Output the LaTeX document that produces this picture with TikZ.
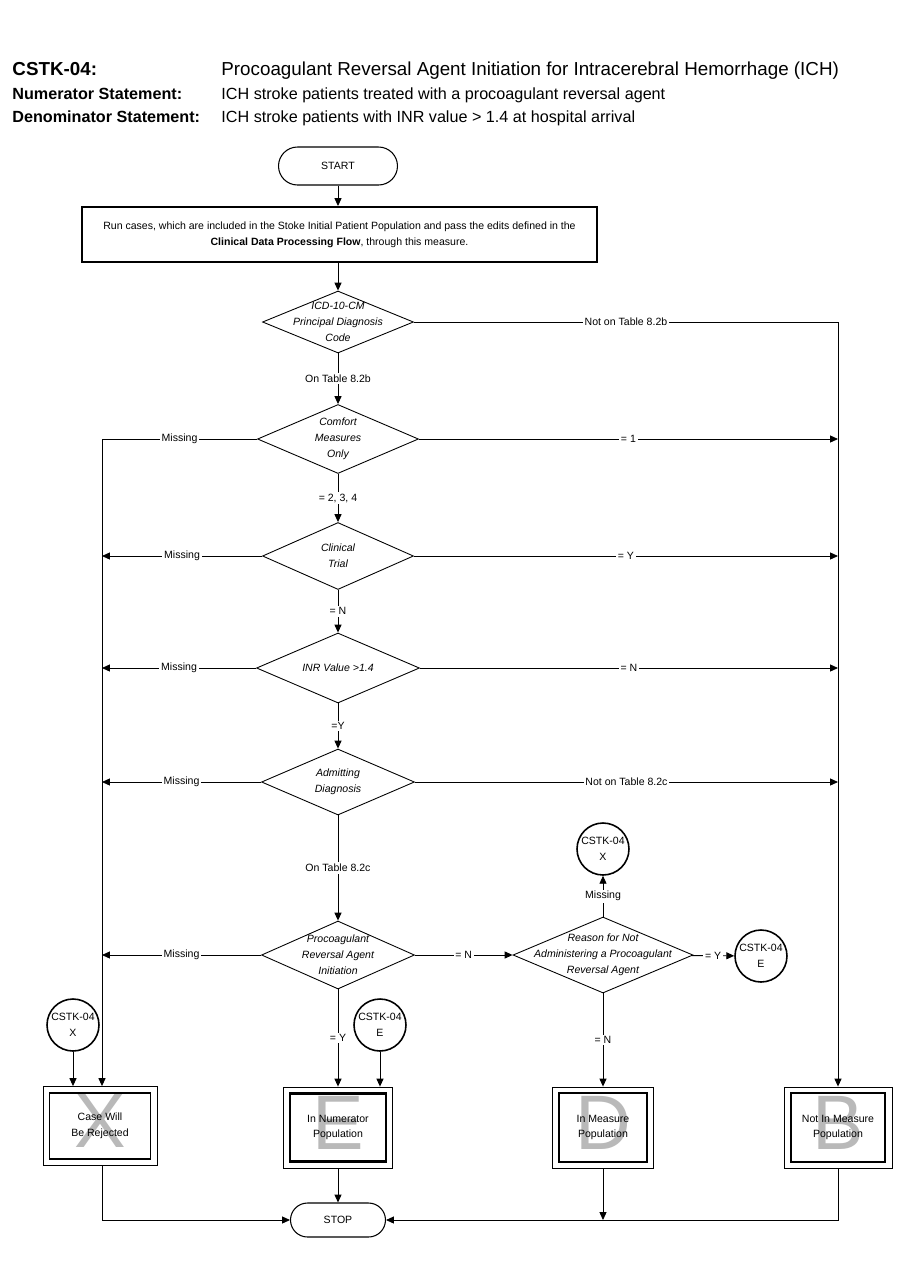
\documentclass[tikz,border=0pt]{standalone}
\usepackage{fontspec}
\setmainfont{Liberation Sans}
\usetikzlibrary{arrows.meta, shapes.geometric, positioning}
\tikzset{%
>={Triangle[width=4pt,length=4.5pt]},
  % Specifications for style of nodes:
            terminal/.style = {draw, line width=0.6pt, minimum width=2.38cm,
                            minimum height=0.76cm, rounded corners=0.38cm},
            process/.style = {draw, line width=1.1pt, minimum width=10.3cm,
                            minimum height=1.1cm},
            decision/.style = {diamond, draw, line width=0.5pt, inner sep=0pt},
            dtext/.style = {font=\fontsize{6}{9}\selectfont\itshape, align=center},
            connector/.style = {circle, draw, line width=0.9pt, minimum size=1.04cm,
                            inner sep=0pt},
            outcome/.style = {draw, line width=0.5pt, minimum height=1.62cm},
            bigletter/.style = {text=gray!55, font=\fontsize{44}{44}\selectfont},
            branch/.style = {fill=white, inner sep=1pt},
            head/.style = {anchor=base west, inner sep=0pt}
}
\begin{document}
\begin{tikzpicture}[x=0.02cm, y=-0.02cm, line width=0.5pt, align=center,
                font=\fontsize{6}{9}\selectfont]
                \useasboundingbox (0,0) rectangle (900,1286);

                % header
                \node[head, font=\fontsize{10.7}{12}\selectfont\bfseries] (h1) at (12,75) {CSTK-04:};
                \node[head, font=\fontsize{10.7}{12}\selectfont] (t1) at (221,75)
                    {Procoagulant Reversal Agent Initiation for Intracerebral Hemorrhage (ICH)};
                \node[head, font=\fontsize{9.2}{11}\selectfont\bfseries] (h2) at (12,99.5) {Numerator Statement:};
                \node[head, font=\fontsize{9.2}{11}\selectfont] (t2) at (221,99.5)
                    {ICH stroke patients treated with a procoagulant reversal agent};
                \node[head, font=\fontsize{9.2}{11}\selectfont\bfseries] (h3) at (12,122.5) {Denominator Statement:};
                \node[head, font=\fontsize{9.2}{11}\selectfont] (t3) at (221,122.5)
                    {ICH stroke patients with INR value > 1.4 at hospital arrival};

                \node[terminal] (start) at (338,166) {START};
                \node[process] (run) at (339.5,234.5)
                    {Run cases, which are included in the Stoke Initial Patient Population and pass the edits defined in the\\
                     \textbf{Clinical Data Processing Flow}, through this measure.};

                \node[decision, minimum width=3.02cm, minimum height=1.24cm,
                    label={[dtext]center:ICD-10-CM\\Principal Diagnosis\\Code}] (d01) at (338,322) {};
                \node[decision, minimum width=3.22cm, minimum height=1.38cm,
                    label={[dtext]center:Comfort\\Measures\\Only}] (d02) at (338,439) {};
                \node[decision, minimum width=3.02cm, minimum height=1.34cm,
                    label={[dtext]center:Clinical\\Trial}] (d03) at (338,556) {};
                \node[decision, minimum width=3.26cm, minimum height=1.4cm,
                    label={[dtext]center:INR Value >1.4}] (d04) at (338,668) {};
                \node[decision, minimum width=3.06cm, minimum height=1.32cm,
                    label={[dtext]center:Admitting\\Diagnosis}] (d05) at (338,782) {};
                \node[decision, minimum width=3.06cm, minimum height=1.36cm,
                    label={[dtext]center:Procoagulant\\Reversal Agent\\Initiation}] (d06) at (338,955) {};
                \node[decision, minimum width=3.6cm, minimum height=1.52cm,
                    label={[dtext]center:Reason for Not\\Administering a Procoagulant\\Reversal Agent}] (d07) at (603,955) {};

                \node[connector] (cX1) at (603,849) {CSTK-04\\X};
                \node[connector] (cE1) at (761,956) {CSTK-04\\E};
                \node[connector] (cX2) at (73,1025) {CSTK-04\\X};
                \node[connector] (cE2) at (380,1025) {CSTK-04\\E};

                \node[outcome, minimum width=2.28cm, minimum height=1.58cm,
                    path picture={\node[bigletter] at ([yshift=0.1cm]path picture bounding box.center) {X};}]
                    (bX) at (100,1126) {Case Will\\Be Rejected};
                \node[outcome, minimum width=2.18cm,
                    path picture={\node[bigletter] at ([yshift=0.1cm]path picture bounding box.center) {E};}]
                    (bE) at (338,1127.5) {In Numerator\\Population};
                \node[outcome, minimum width=2.02cm,
                    path picture={\node[bigletter] at ([yshift=0.1cm]path picture bounding box.center) {D};}]
                    (bD) at (603,1127.5) {In Measure\\Population};
                \node[outcome, minimum width=2.16cm,
                    path picture={\node[bigletter] at ([yshift=0.1cm]path picture bounding box.center) {B};}]
                    (bB) at (838,1127.5) {Not In Measure\\Population};
                \foreach \b/\w in {bX/0.8pt, bE/1.6pt, bD/1.2pt, bB/1.2pt}
                    \draw[line width=\w] ([shift={(0.14cm,-0.135cm)}]\b.north west)
                        rectangle ([shift={(-0.14cm,0.135cm)}]\b.south east);

                \node[terminal, minimum width=1.9cm, minimum height=0.68cm,
                    rounded corners=0.34cm] (stop) at (338,1220) {STOP};
                \coordinate (xl) at (102,0);

                \draw[->] (start) -- (start |- run.north);
                \draw[->] (run.south -| d01) -- (d01);
                \draw[->] (d01.east) -- node[branch] {Not on Table 8.2b} (d01.east -| bB) -- (bB);
                \draw[->] (d01) -- node[branch] {On Table 8.2b} (d02);
                \draw[->] (d02.west) -- node[branch] {Missing} (d02.west -| xl) -- (xl |- bX.north);
                \draw[->] (d02.east) -- node[branch] {= 1} (d02.east -| bB);
                \draw[->] (d02) -- node[branch] {= 2, 3, 4} (d03);
                \draw[->] (d03.west) -- node[branch] {Missing} (d03.west -| xl);
                \draw[->] (d03.east) -- node[branch] {= Y} (d03.east -| bB);
                \draw[->] (d03) -- node[branch] {= N} (d04);
                \draw[->] (d04.west) -- node[branch] {Missing} (d04.west -| xl);
                \draw[->] (d04.east) -- node[branch] {= N} (d04.east -| bB);
                \draw[->] (d04) -- node[branch] {=Y} (d05);
                \draw[->] (d05.west) -- node[branch] {Missing} (d05.west -| xl);
                \draw[->] (d05.east) -- node[branch] {Not on Table 8.2c} (d05.east -| bB);
                \draw[->] (d05) -- node[branch] {On Table 8.2c} (d06);
                \draw[->] (d06.west) -- node[branch] {Missing} (d06.west -| xl);
                \draw[->] (d06) -- node[branch] {= N} (d07);
                \draw[->] (d06) -- node[branch] {= Y} (bE);
                \draw[->] (d07) -- node[branch] {Missing} (cX1);
                \draw[->] (d07) -- node[branch] {= Y} (cE1);
                \draw[->] (d07) -- node[branch] {= N} (bD);
                \draw[->] (cX2) -- (cX2 |- bX.north);
                \draw[->] (cE2) -- (cE2 |- bE.north);

                \draw[->] (bE) -- (stop);
                \draw[->] (bX.south -| xl) -- (xl |- stop) -- (stop);
                \draw[->] (bB) -- (bB |- stop) -- (stop);
                \draw[->] (bD) -- (bD |- stop);

            \end{tikzpicture}
\end{document}
